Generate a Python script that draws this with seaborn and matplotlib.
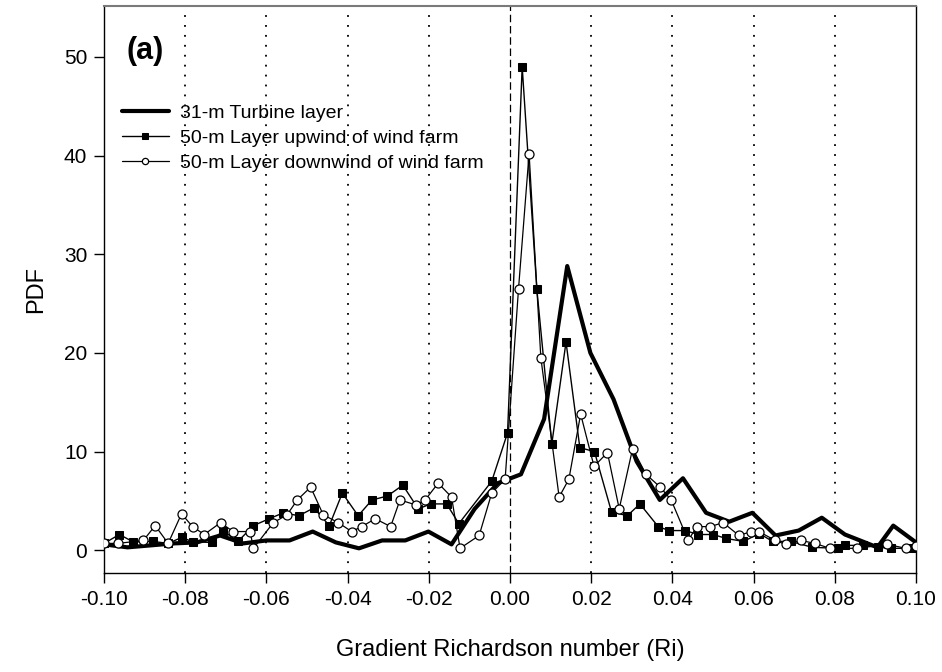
import matplotlib
matplotlib.use("Agg")
import matplotlib.pyplot as plt
import seaborn as sns
import pandas as pd

# ---------------- data ----------------
turb_x = [-0.1000, -0.0942, -0.0885, -0.0828, -0.0771, -0.0714, -0.0657, -0.0600, -0.0543,
          -0.0486, -0.0429, -0.0372, -0.0315, -0.0258, -0.0201, -0.0144, -0.0087, -0.0030,
          0.0027, 0.0084, 0.0141, 0.0198, 0.0255, 0.0312, 0.0369, 0.0426, 0.0483, 0.0540,
          0.0597, 0.0654, 0.0711, 0.0768, 0.0825, 0.0905, 0.0944, 0.1000]
turb_y = [0.6, 0.3, 0.5, 0.7, 0.8, 1.5, 0.7, 1.0, 1.0,
          1.9, 0.8, 0.2, 1.0, 1.0, 1.9, 0.6, 4.2, 6.8,
          7.7, 13.3, 28.8, 20.0, 15.3, 9.0, 5.1, 7.3, 3.8, 2.9,
          3.8, 1.5, 2.0, 3.3, 1.6, 0.3, 2.5, 0.8]

up_x = [-0.1000, -0.0962, -0.0928, -0.0880, -0.0842, -0.0809, -0.0780, -0.0735, -0.0708,
        -0.0670, -0.0632, -0.0593, -0.0558, -0.0520, -0.0483, -0.0445, -0.0413, -0.0374,
        -0.0340, -0.0302, -0.0264, -0.0226, -0.0195, -0.0156, -0.0126, -0.0045, -0.0006,
        0.0030, 0.0066, 0.0103, 0.0138, 0.0172, 0.0208, 0.0250, 0.0289, 0.0320, 0.0365,
        0.0392, 0.0431, 0.0464, 0.0501, 0.0532, 0.0575, 0.0614, 0.0647, 0.0691, 0.0745,
        0.0808, 0.0825, 0.0870, 0.0907, 0.0939, 0.0990]
up_y = [0.7, 1.6, 0.85, 0.9, 0.7, 1.3, 0.85, 0.8, 2.0,
        0.9, 2.5, 3.2, 3.8, 3.5, 4.3, 2.5, 5.8, 3.5,
        5.1, 5.5, 6.6, 4.2, 4.7, 4.7, 2.7, 7.0, 11.9,
        49.0, 26.5, 10.8, 21.1, 10.4, 10.0, 3.9, 3.5, 4.7, 2.4,
        2.0, 2.0, 1.6, 1.6, 1.2, 0.9, 1.7, 0.9, 0.9, 0.3,
        0.2, 0.5, 0.5, 0.3, 0.2, 0.2]

down_x = [-0.1000, -0.0965, -0.0903, -0.0874, -0.0842, -0.0809, -0.0782, -0.0753, -0.0713,
          -0.0682, -0.0640, -0.0632, -0.0583, -0.0549, -0.0524, -0.0491, -0.0460, -0.0423,
          -0.0390, -0.0365, -0.0332, -0.0294, -0.0271, -0.0232, -0.0209, -0.0177, -0.0144,
          -0.0123, -0.0076, -0.0045, -0.0012, 0.0021, 0.0047, 0.0076, 0.0121, 0.0145,
          0.0174, 0.0207, 0.0240, 0.0269, 0.0302, 0.0335, 0.0370, 0.0397, 0.0439, 0.0460,
          0.0493, 0.0525, 0.0564, 0.0594, 0.0613, 0.0653, 0.0679, 0.0716, 0.0751, 0.0788,
          0.0855, 0.0929, 0.0975, 0.1000]
down_y = [0.7, 0.7, 1.0, 2.5, 0.7, 3.7, 2.4, 1.6, 2.8,
          1.9, 1.9, 0.2, 2.8, 3.6, 5.1, 6.4, 3.6, 2.8,
          1.9, 2.4, 3.2, 2.4, 5.1, 4.6, 5.1, 6.8, 5.4,
          0.2, 1.5, 5.8, 7.2, 26.5, 40.2, 19.5, 5.4, 7.2,
          13.8, 8.5, 9.9, 4.2, 10.3, 7.7, 6.4, 5.1, 1.0, 2.4,
          2.4, 2.8, 1.5, 1.9, 1.9, 1.0, 0.6, 1.0, 0.7, 0.2,
          0.2, 0.6, 0.2, 0.4]

series_labels = ["31-m Turbine layer",
                 "50-m Layer upwind of wind farm",
                 "50-m Layer downwind of wind farm"]
x_ticks = [-0.10, -0.08, -0.06, -0.04, -0.02, 0.00, 0.02, 0.04, 0.06, 0.08, 0.10]
x_tick_labels = ["-0.10", "-0.08", "-0.06", "-0.04", "-0.02", "0.00",
                 "0.02", "0.04", "0.06", "0.08", "0.10"]
y_ticks = [0, 10, 20, 30, 40, 50]
grid_x = [-0.08, -0.06, -0.04, -0.02, 0.02, 0.04, 0.06, 0.08]

# ---------------- style ----------------
sns.set_theme(style="ticks")
plt.rcParams["font.family"] = ["Liberation Sans", "DejaVu Sans"]
plt.rcParams["text.color"] = "black"
plt.rcParams["axes.labelcolor"] = "black"
plt.rcParams["xtick.color"] = "black"
plt.rcParams["ytick.color"] = "black"

fig = plt.figure(figsize=(9.42, 6.72), dpi=100)
ax = fig.add_axes([104 / 942, 1 - 573 / 672, (916 - 104) / 942, (573 - 6) / 672])

for gx in grid_x:
    ax.axvline(gx, color="black", lw=1.3, ls=(0, (1, 4.5)), zorder=1)
ax.axvline(0.0, color="black", lw=0.9, ls=(0, (6, 3)), zorder=1)

df_t = pd.DataFrame({"x": turb_x, "y": turb_y})
df_u = pd.DataFrame({"x": up_x, "y": up_y})
df_d = pd.DataFrame({"x": down_x, "y": down_y})

sns.lineplot(data=df_t, x="x", y="y", ax=ax, color="black", lw=3.0,
             estimator=None, sort=False, label=series_labels[0], zorder=3)
sns.lineplot(data=df_u, x="x", y="y", ax=ax, color="black", lw=1.0,
             marker="s", markersize=5.5, markerfacecolor="black",
             markeredgecolor="black", estimator=None, sort=False,
             label=series_labels[1], zorder=4)
sns.lineplot(data=df_d, x="x", y="y", ax=ax, color="black", lw=0.9,
             marker="o", markersize=6.5, markerfacecolor="white",
             markeredgecolor="black", markeredgewidth=0.9, estimator=None,
             sort=False, label=series_labels[2], zorder=5)

ax.set_xlim(-0.10, 0.10)
ax.set_ylim(-2.3, 55.15)
ax.set_xticks(x_ticks)
ax.set_xticklabels(x_tick_labels)
ax.set_yticks(y_ticks)
ax.tick_params(axis="both", direction="out", length=7, width=1.0,
               labelsize=15, color="black", labelcolor="black", pad=5)
ax.set_xlabel("Gradient Richardson number (Ri)", fontsize=17, labelpad=22, color="black")
ax.set_ylabel("PDF", fontsize=17, labelpad=12, color="black")

for s in ["left", "bottom", "right"]:
    ax.spines[s].set_color("black")
    ax.spines[s].set_linewidth(1.0)
ax.spines["top"].set_color("#7a7a7a")
ax.spines["top"].set_linewidth(1.5)
ax.spines["right"].set_visible(True)
ax.spines["top"].set_visible(True)

ax.text(-0.0945, 50.6, "(a)", fontsize=22, fontweight="bold", va="center", ha="left",
        color="black")

leg = ax.legend(loc="center left", bbox_to_anchor=(0.022, 0.767), frameon=False,
                fontsize=14, handlelength=2.4, handletextpad=0.6, borderpad=0,
                borderaxespad=0, labelspacing=0.38)
for t in leg.get_texts():
    t.set_color("black")
for h in leg.legend_handles:
    h.set_markersize(4.5)

fig.savefig("out.png", dpi=100)
